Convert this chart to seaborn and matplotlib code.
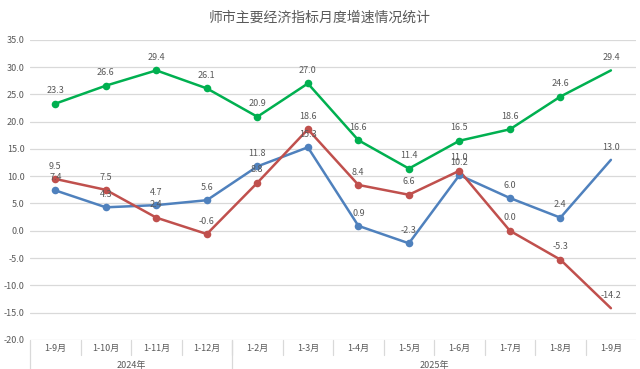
import numpy as np
import pandas as pd
import matplotlib
matplotlib.use("Agg")
import matplotlib.pyplot as plt
import matplotlib.transforms as mtransforms
import seaborn as sns

# data
months = ["1-9月", "1-10月", "1-11月", "1-12月", "1-2月", "1-3月",
          "1-4月", "1-5月", "1-6月", "1-7月", "1-8月", "1-9月"]
years = ["2024年", "2025年"]
year_sizes = [4, 8]
green_vals = [23.3, 26.6, 29.4, 26.1, 20.9, 27.0, 16.6, 11.4, 16.5, 18.6, 24.6, 29.4]
blue_vals = [7.4, 4.3, 4.7, 5.6, 11.8, 15.3, 0.9, -2.3, 10.2, 6.0, 2.4, 13.0]
red_vals = [9.5, 7.5, 2.4, -0.6, 8.8, 18.6, 8.4, 6.6, 11.0, 0.0, -5.3, -14.2]

sns.set_style("white")
plt.rcParams['font.family'] = ['Noto Sans CJK SC', 'DejaVu Sans']

text_color = "#595959"
grid_color = "#D9D9D9"

fig = plt.figure(figsize=(6.4, 3.69), dpi=100)
ax = fig.add_axes([0.047, 0.079, 0.947, 0.813])

x = np.arange(len(months))
series = [(blue_vals, "#4F81BD"), (red_vals, "#C0504D"), (green_vals, "#00B050")]

for vals, color in series:
    df = pd.DataFrame({"x": x, "y": vals})
    sns.lineplot(data=df, x="x", y="y", color=color, linewidth=1.8, ax=ax, zorder=3)
    # last point has no marker in the original
    sns.scatterplot(data=df.iloc[:-1], x="x", y="y", color=color, s=30,
                    edgecolor=color, linewidth=0, ax=ax, zorder=4)
    for xi, yi in zip(x, vals):
        ax.annotate(f"{yi:.1f}", (xi, yi), xytext=(0, 6), textcoords="offset points",
                    ha="center", va="bottom", fontsize=6.5, color=text_color, zorder=5)

ax.set_xlim(-0.5, len(months) - 0.5)
ax.set_ylim(-20, 35)
ax.set_yticks(np.arange(-20, 36, 5))
ax.set_yticklabels([f"{v:.1f}" for v in np.arange(-20, 36, 5)], fontsize=6.5, color=text_color)
ax.tick_params(axis="y", length=0, pad=4)
ax.set_xticks([])
ax.set_xlabel("")
ax.set_ylabel("")
ax.yaxis.grid(True, color=grid_color, linewidth=0.9)
ax.set_axisbelow(True)
for sp in ax.spines.values():
    sp.set_visible(False)

# category axis with two levels
trans = mtransforms.blended_transform_factory(ax.transData, ax.transAxes)
for xi, m in zip(x, months):
    ax.text(xi, -0.028, m, transform=trans, ha="center", va="center",
            fontsize=6.5, color=text_color)
for b in range(1, len(months)):
    ax.plot([b - 0.5, b - 0.5], [0, -0.052], transform=trans, color=grid_color,
            linewidth=0.9, clip_on=False)
start = 0
bounds = [-0.5]
for yr, n in zip(years, year_sizes):
    ax.text(start + (n - 1) / 2, -0.085, yr, transform=trans, ha="center", va="center",
            fontsize=6.5, color=text_color)
    start += n
    bounds.append(start - 0.5)
for bnd in bounds[:-1]:
    ax.plot([bnd, bnd], [0, -0.12], transform=trans, color=grid_color,
            linewidth=0.9, clip_on=False)

fig.text(0.5, 0.952, "师市主要经济指标月度增速情况统计", ha="center", va="center",
         fontsize=10, color=text_color)

fig.savefig("out.png", dpi=100)
